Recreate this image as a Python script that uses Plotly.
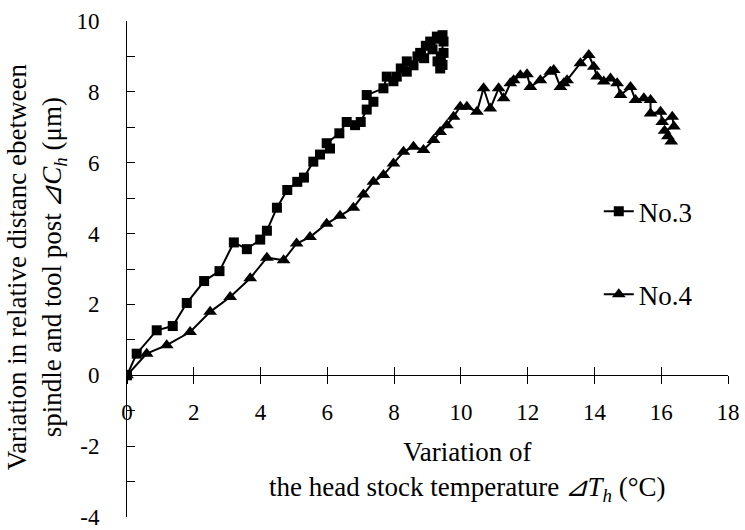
import plotly.graph_objects as go

# ---- data ----
no3_x = [0, 0.29, 0.89, 1.37, 1.79, 2.31, 2.77, 3.2, 3.59, 3.99, 4.19, 4.49, 4.8, 5.1, 5.3,
         5.58, 5.78, 6.08, 5.98, 6.36, 6.58, 6.83, 7.0, 7.18, 7.38, 7.18, 7.68, 7.78, 7.98,
         8.08, 8.2, 8.38, 8.38, 8.58, 8.7, 8.78, 8.9, 8.95, 9.08, 9.15, 9.28, 9.35, 9.45,
         9.48, 9.4, 9.48, 9.3, 9.45, 9.38]
no3_y = [0, 0.61, 1.27, 1.39, 2.04, 2.66, 2.94, 3.75, 3.56, 3.83, 4.08, 4.73, 5.23, 5.46, 5.58,
         6.03, 6.23, 6.4, 6.55, 6.83, 7.15, 7.06, 7.15, 7.5, 7.72, 7.91, 8.1, 8.43, 8.3,
         8.43, 8.66, 8.57, 8.86, 8.75, 9.0, 9.1, 8.95, 9.3, 9.42, 9.2, 9.56, 9.5, 9.6,
         9.42, 9.0, 9.1, 8.86, 8.76, 8.66]

no4_x = [0, 0.59, 1.19, 1.89, 2.49, 3.09, 3.69, 4.19, 4.69, 5.08, 5.48, 5.98, 6.38, 6.78, 7.08,
         7.38, 7.68, 7.98, 8.28, 8.58, 8.88, 9.18, 9.38, 9.58, 9.78, 9.98, 10.18, 10.48, 10.68,
         10.88, 11.13, 11.28, 11.48, 11.58, 11.78, 11.98, 12.08, 12.38, 12.68, 12.78, 12.98,
         13.08, 13.18, 13.58, 13.83, 13.98, 14.08, 14.28, 14.48, 14.68, 14.78, 15.08, 15.23,
         15.48, 15.68, 15.68, 15.98, 16.03, 16.33, 16.38, 16.1, 16.2, 16.3]
no4_y = [0, 0.61, 0.85, 1.22, 1.79, 2.21, 2.74, 3.32, 3.25, 3.72, 3.9, 4.28, 4.5, 4.73, 5.1,
         5.46, 5.65, 5.98, 6.31, 6.45, 6.36, 6.64, 6.87, 7.06, 7.3, 7.58, 7.58, 7.44, 8.1,
         7.53, 8.1, 7.82, 8.24, 8.33, 8.47, 8.5, 8.14, 8.33, 8.57, 8.62, 8.14,
         8.24, 8.33, 8.81, 9.04, 8.71, 8.43, 8.29, 8.38, 8.24, 7.91, 8.14, 7.77,
         7.82, 7.77, 7.39, 7.44, 7.15, 7.3, 7.02, 6.9, 6.75, 6.6]

x_range = [0, 18]
y_range = [-4, 10]
x_tick_vals = [0, 2, 4, 6, 8, 10, 12, 14, 16, 18]
x_tick_text = ["0", "2", "4", "6", "8", "10", "12", "14", "16", "18"]
y_tick_vals = [-4, -2, 0, 2, 4, 6, 8, 10]
y_tick_text = ["-4", "-2", "0", "2", "4", "6", "8", "10"]

FONT = "Times New Roman, Liberation Serif, serif"
TICK_SIZE = 23
TITLE_SIZE = 27

fig = go.Figure()
fig.add_trace(go.Scatter(x=no3_x, y=no3_y, mode="lines+markers", name="No.3",
                         legendgroup="a",
                         line=dict(color="black", width=2),
                         marker=dict(symbol="square", size=10, color="black")))
fig.add_trace(go.Scatter(x=no4_x, y=no4_y, mode="lines+markers", name="No.4",
                         legendgroup="b",
                         line=dict(color="black", width=2),
                         marker=dict(symbol="triangle-up", size=12, color="black")))
# helper invisible trace for overlaid x axis
fig.add_trace(go.Scatter(x=[0], y=[0], xaxis="x2", mode="markers",
                         marker=dict(opacity=0), showlegend=False, hoverinfo="skip"))

pos0 = (0 - y_range[0]) / (y_range[1] - y_range[0])

fig.update_layout(
    width=745, height=530,
    margin=dict(l=127, r=17, t=21, b=13),
    paper_bgcolor="white", plot_bgcolor="white",
    font=dict(family=FONT, color="black", size=TICK_SIZE),
    showlegend=True,
    legend=dict(x=0.785, y=0.665, xanchor="left", yanchor="top",
                font=dict(family=FONT, size=TITLE_SIZE),
                bgcolor="rgba(0,0,0,0)", tracegroupgap=45,
                traceorder="grouped", itemwidth=30),
    xaxis=dict(range=x_range, tickvals=x_tick_vals, ticktext=x_tick_text,
               showgrid=False, zeroline=False, automargin=False,
               showline=True, linecolor="black", linewidth=1,
               ticks="outside", ticklen=8, tickcolor="black",
               anchor="free", position=pos0, ticklabelstandoff=8,
               ticklabeloverflow="allow",
               tickfont=dict(family=FONT, size=TICK_SIZE)),
    xaxis2=dict(range=x_range, tickvals=x_tick_vals, overlaying="x", anchor="free",
                position=pos0, showgrid=False, zeroline=False, showline=False,
                automargin=False,
                ticks="inside", ticklen=8, tickcolor="black", showticklabels=False),
    yaxis=dict(range=y_range, tickvals=y_tick_vals, ticktext=y_tick_text,
               showgrid=False, zeroline=False, automargin=False,
               showline=True, linecolor="black", linewidth=1,
               ticks="inside", ticklen=8, tickcolor="black",
               minor=dict(dtick=1, ticks="inside", ticklen=8, tickcolor="black"),
               ticklabelstandoff=22, ticklabeloverflow="allow",
               tickfont=dict(family=FONT, size=TICK_SIZE)),
    annotations=[
        dict(text="Variation of<br>the head stock temperature\u2009<i>⊿T<sub>h</sub></i> (°C)",
             xref="paper", yref="paper", x=0.566, y=0.091, xanchor="center",
             yanchor="middle", showarrow=False,
             font=dict(family=FONT, size=TITLE_SIZE)),
        dict(text="Variation in relative distanc ebetween<br>spindle and tool post\u2009<i>⊿C<sub>h</sub></i> (μm)",
             xref="paper", yref="paper", x=-0.15, y=0.505, xanchor="center",
             yanchor="middle", textangle=-90, showarrow=False,
             font=dict(family=FONT, size=TITLE_SIZE)),
    ],
)

fig.write_html("out.html")
